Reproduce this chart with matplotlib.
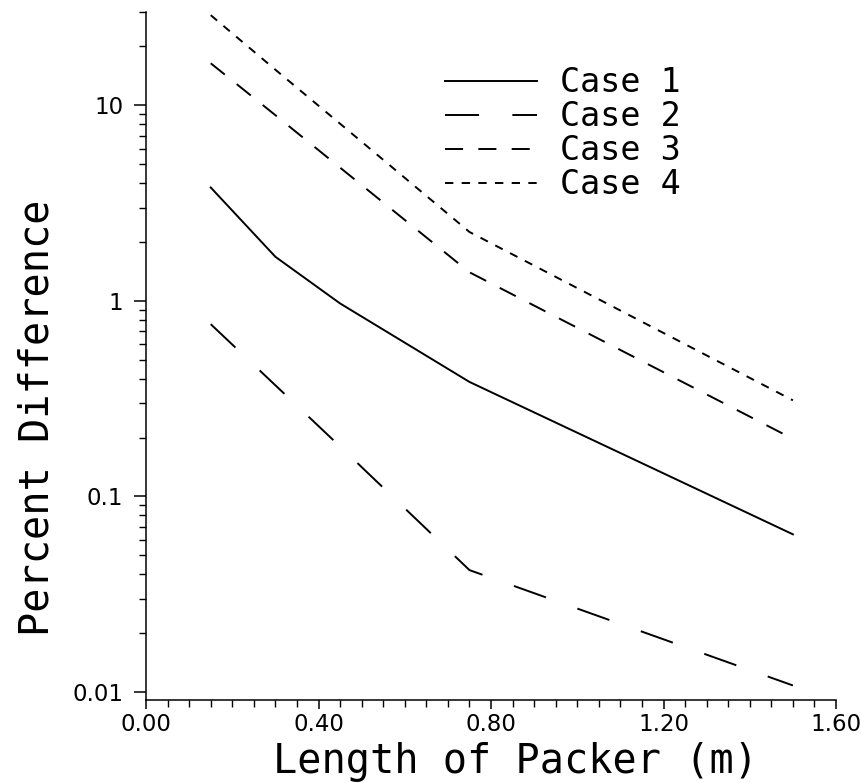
import matplotlib
matplotlib.use("Agg")
import matplotlib.pyplot as plt
from matplotlib.ticker import MultipleLocator, LogLocator, FormatStrFormatter, NullFormatter

plt.rcParams['font.family'] = ['DejaVu Sans Mono', 'DejaVu Sans']
plt.rcParams['lines.scale_dashes'] = False

# packer length (m)
length = [0.15, 0.30, 0.45, 0.75, 1.50]

case1 = [3.8, 1.68, 0.97, 0.385, 0.064]
case2 = [0.76, 0.37, 0.18, 0.042, 0.0108]
case3 = [16.4, 8.9, 4.8, 1.4, 0.197]
case4 = [28.9, 15.2, 8.05, 2.25, 0.31]

labels = ["Case 1", "Case 2", "Case 3", "Case 4"]
styles = ["-", (0, (24.5, 24)), (0, (13, 11)), (0, (6, 6))]

fig = plt.figure(figsize=(8.61, 7.83), dpi=100)
ax = fig.add_axes([0.1696, 0.106, 0.8014, 0.8787])

for y, lab, ls in zip([case1, case2, case3, case4], labels, styles):
    ax.plot(length, y, color="black", linewidth=1.4, linestyle=ls, label=lab)

ax.set_yscale("log")
ax.set_xlim(0, 1.6)
ax.set_ylim(0.0091, 30)

ax.xaxis.set_major_locator(MultipleLocator(0.4))
ax.xaxis.set_minor_locator(MultipleLocator(0.05))
ax.xaxis.set_major_formatter(FormatStrFormatter("%.2f"))

ax.set_yticks([0.01, 0.1, 1, 10])
ax.set_yticklabels(["0.01", "0.1", "1", "10"])
ax.yaxis.set_minor_locator(LogLocator(base=10, subs=range(2, 10)))
ax.yaxis.set_minor_formatter(NullFormatter())

for s in ["top", "right"]:
    ax.spines[s].set_visible(False)
for s in ["left", "bottom"]:
    ax.spines[s].set_linewidth(1.1)

ax.tick_params(axis="x", which="major", direction="out", length=6.5, width=1.1,
               labelsize=16.5, pad=3)
ax.tick_params(axis="x", which="minor", direction="out", length=5, width=1.0)
ax.tick_params(axis="y", which="major", direction="out", length=8.5, width=1.1,
               labelsize=16.5, pad=8)
ax.tick_params(axis="y", which="minor", direction="out", length=5, width=1.0)
for t in ax.get_xticklabels() + ax.get_yticklabels():
    t.set_family("DejaVu Sans")

ax.set_xlabel("Length of Packer (m)", fontsize=29)
ax.set_ylabel("Percent Difference", fontsize=29)
ax.xaxis.set_label_coords(0.535, -0.061)
ax.yaxis.set_label_coords(-0.129, 0.41)

ax.legend(loc="center left", bbox_to_anchor=(0.433, 0.823), frameon=False,
          fontsize=24, handlelength=2.76, handletextpad=0.69,
          labelspacing=0.03, borderpad=0, borderaxespad=0)

fig.savefig("out.png", dpi=100)
